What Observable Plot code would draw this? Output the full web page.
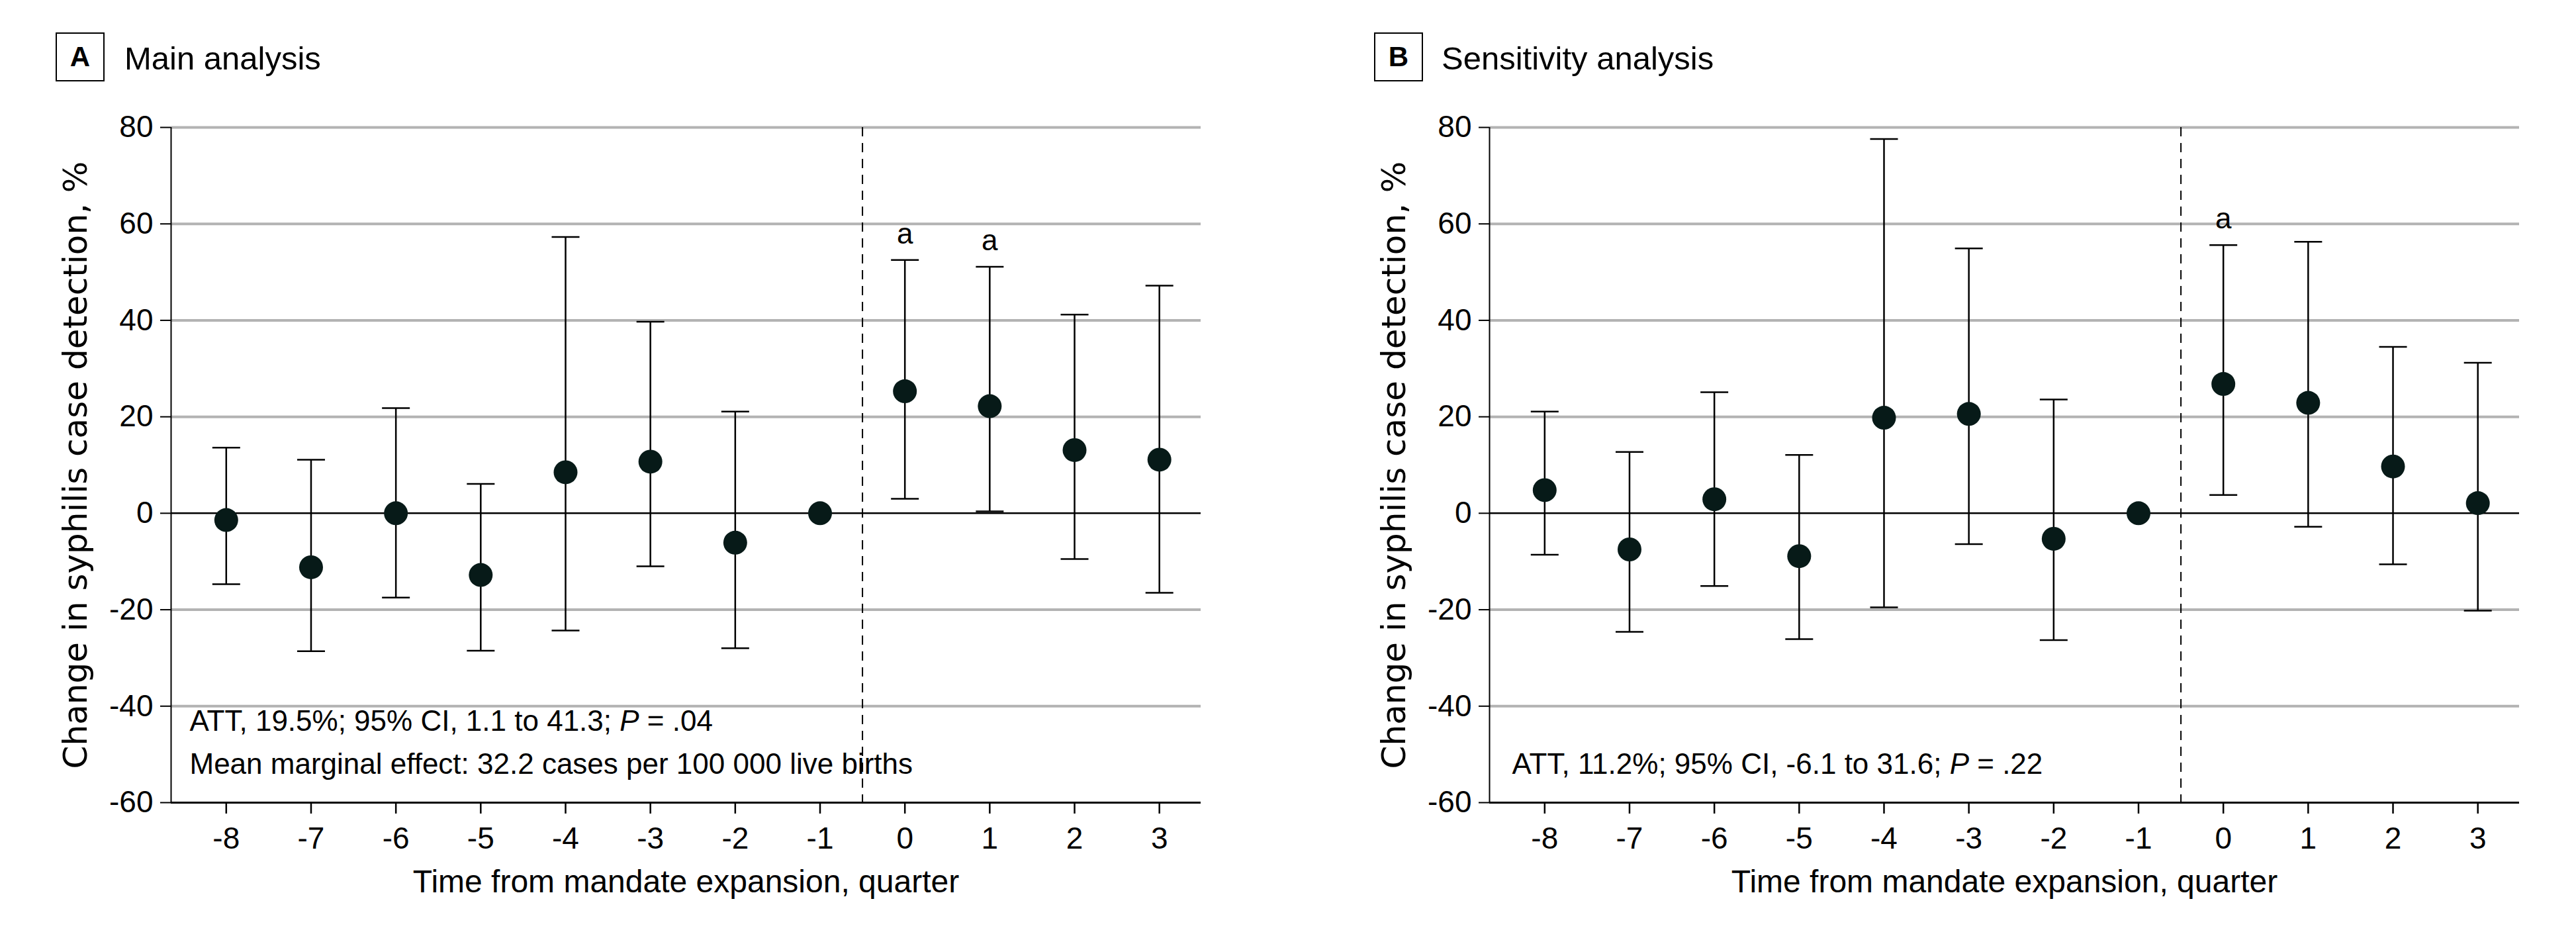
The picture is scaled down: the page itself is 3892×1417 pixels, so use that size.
<!DOCTYPE html>
<html>
<head>
<meta charset="utf-8">
<script src="https://cdn.jsdelivr.net/npm/d3@7"></script>
<script src="https://cdn.jsdelivr.net/npm/@observablehq/plot@0.6"></script>
<style>
  body { margin: 0; background: #fff; }
  #figure { position: relative; width: 3892px; height: 1417px; overflow: hidden;
            font-family: "Liberation Sans", Arial, sans-serif; color: #000; background: #fff; }
  .panel { position: absolute; top: 0; width: 1946px; height: 1417px; }
  .badge { position: absolute; top: 49px; width: 70px; height: 70px; border: 2px solid #000;
           font-weight: bold; font-size: 42px; line-height: 70px; text-align: center; }
  .title { position: absolute; top: 64px; font-size: 49px; line-height: 49px; white-space: nowrap; }
  .panel svg { position: absolute; top: 150px; left: 0; }
</style>
</head>
<body>
<div id="figure"></div>
<script>
// Event-study estimates by quarter relative to the mandate expansion (quarter -1 is the reference).
const quarters = [-8, -7, -6, -5, -4, -3, -2, -1, 0, 1, 2, 3];

// A: main analysis — point estimate and 95% CI bounds, % change
const mainEstimate = [-1.4, -11.2, 0.0, -12.8, 8.5, 10.7, -6.1, 0, 25.3, 22.2, 13.1, 11.1];
const mainLower    = [-14.7, -28.6, -17.5, -28.5, -24.3, -11.0, -28.0, null, 3.0, 0.4, -9.5, -16.5];
const mainUpper    = [13.6, 11.1, 21.8, 6.1, 57.3, 39.7, 21.1, null, 52.5, 51.1, 41.2, 47.2];
const mainSignificant = [0, 1];
const mainNotes = [
  "ATT, 19.5%; 95% CI, 1.1 to 41.3; P = .04",
  "Mean marginal effect: 32.2 cases per 100 000 live births"
];

// B: sensitivity analysis
const sensEstimate = [4.8, -7.5, 2.9, -8.9, 19.8, 20.6, -5.3, 0, 26.8, 22.9, 9.7, 2.1];
const sensLower    = [-8.6, -24.6, -15.1, -26.1, -19.5, -6.4, -26.3, null, 3.8, -2.8, -10.6, -20.2];
const sensUpper    = [21.1, 12.7, 25.1, 12.1, 77.6, 54.9, 23.6, null, 55.6, 56.3, 34.5, 31.2];
const sensSignificant = [0];
const sensNotes = ["ATT, 11.2%; 95% CI, -6.1 to 31.6; P = .22"];

// Axes
const yTicks = [-60, -40, -20, 0, 20, 40, 60, 80];
const yTickLabels = yTicks.map(v => String(v));
const xTickLabels = quarters.map(q => String(q));
const xTitle = "Time from mandate expansion, quarter";
const yTitle = "Change in syphilis case detection, %";
const expansionAt = -0.5; // boundary between pre and post quarters
const significanceMark = "a";

const panels = [
  { letter: "A", title: "Main analysis", estimate: mainEstimate, lower: mainLower, upper: mainUpper,
    significant: mainSignificant, notes: mainNotes,
    left: 0, badgeLeft: 84, titleLeft: 188, marginLeft: 258, noteDx: 28 },
  { letter: "B", title: "Sensitivity analysis", estimate: sensEstimate, lower: sensLower, upper: sensUpper,
    significant: sensSignificant, notes: sensNotes,
    left: 1946, badgeLeft: 130, titleLeft: 232, marginLeft: 304, noteDx: 34 }
];

// Horizontal whisker cap drawn as a dot symbol (r = half-width in px)
const capSymbol = {
  draw(context, size) {
    const w = Math.sqrt(size / Math.PI);
    context.moveTo(-w, 0);
    context.lineTo(w, 0);
  }
};

const W = 1946, H = 1267, frameWidth = 1556;
const xDomain = [-8.65, 3.49];
const noteSize = 44;
const ink = "#000";
const dotFill = "#071a18";

function drawPanel(p) {
  const rows = quarters.map((q, i) => ({ q, est: p.estimate[i], lo: p.lower[i], hi: p.upper[i] }));
  const ciRows = rows.filter(d => d.lo != null && d.hi != null);
  const sigRows = rows.filter(d => p.significant.includes(d.q));
  const noteMarks = p.notes.map((note, i) => Plot.text([note], {
    frameAnchor: "bottom-left", textAnchor: "start", dx: p.noteDx,
    dy: -44 - (p.notes.length - 1 - i) * 65, fontSize: noteSize, fill: ink
  }));

  return Plot.plot({
    width: W, height: H,
    marginLeft: p.marginLeft, marginRight: W - p.marginLeft - frameWidth,
    marginTop: 42, marginBottom: 205,
    x: { domain: xDomain },
    y: { domain: [yTicks[0], yTicks[yTicks.length - 1]] },
    style: { fontFamily: "'Liberation Sans', Arial, sans-serif", fontSize: "46px",
             color: ink, background: "transparent", overflow: "visible" },
    marks: [
      Plot.ruleY(yTicks.filter(v => v !== 0 && v !== yTicks[0]), { stroke: "#b3b3b3", strokeWidth: 4 }),
      Plot.ruleX([expansionAt], { stroke: ink, strokeWidth: 2, strokeDasharray: "14,10" }),
      Plot.ruleY([0], { stroke: ink, strokeWidth: 2.5 }),
      Plot.ruleY([yTicks[0]], { stroke: ink, strokeWidth: 3 }),
      Plot.ruleX([xDomain[0]], { stroke: ink, strokeWidth: 2 }),
      Plot.axisX(quarters, { tickSize: 17, tickPadding: 20, strokeWidth: 2.5,
                             tickFormat: (d, i) => xTickLabels[i], label: null }),
      Plot.axisY(yTicks, { tickSize: 16, tickPadding: 11, strokeWidth: 2,
                           tickFormat: (d, i) => yTickLabels[i], label: null }),
      Plot.ruleX(ciRows, { x: "q", y1: "lo", y2: "hi", stroke: ink, strokeWidth: 2.5 }),
      Plot.dot(ciRows, { x: "q", y: "hi", symbol: capSymbol, r: 21, fill: "none", stroke: ink, strokeWidth: 2.5 }),
      Plot.dot(ciRows, { x: "q", y: "lo", symbol: capSymbol, r: 21, fill: "none", stroke: ink, strokeWidth: 2.5 }),
      Plot.dot(rows, { x: "q", y: "est", r: 18, fill: dotFill, stroke: null }),
      Plot.text(sigRows, { x: "q", y: "hi", text: () => significanceMark, dy: -39, fontSize: noteSize, fill: ink }),
      ...noteMarks,
      Plot.text([yTitle], { frameAnchor: "left", textAnchor: "middle", rotate: -90, dx: -144, fontSize: 50,
                            fontFamily: "'DejaVu Sans', Verdana, sans-serif", fill: ink }),
      Plot.text([xTitle], { frameAnchor: "bottom", textAnchor: "middle", dy: 135, fontSize: 48, fill: ink })
    ]
  });
}

// Italicize the P in the statistics lines
function italicizeP(svg) {
  svg.querySelectorAll("text").forEach(t => {
    const s = t.textContent;
    const k = s.indexOf("P = ");
    if (k < 0 || t.querySelector("tspan.ital")) return;
    const ns = "http://www.w3.org/2000/svg";
    while (t.firstChild) t.removeChild(t.firstChild);
    const a = document.createElementNS(ns, "tspan"); a.textContent = s.slice(0, k);
    const b = document.createElementNS(ns, "tspan"); b.textContent = "P";
    b.setAttribute("font-style", "italic"); b.setAttribute("class", "ital");
    const c = document.createElementNS(ns, "tspan"); c.textContent = s.slice(k + 1);
    t.append(a, b, c);
  });
}

const fig = document.getElementById("figure");
for (const p of panels) {
  const div = document.createElement("div");
  div.className = "panel";
  div.style.left = p.left + "px";
  const badge = document.createElement("div");
  badge.className = "badge"; badge.style.left = p.badgeLeft + "px"; badge.textContent = p.letter;
  const title = document.createElement("div");
  title.className = "title"; title.style.left = p.titleLeft + "px"; title.textContent = p.title;
  const svg = drawPanel(p);
  italicizeP(svg);
  div.append(badge, title, svg);
  fig.append(div);
}
</script>
</body>
</html>
